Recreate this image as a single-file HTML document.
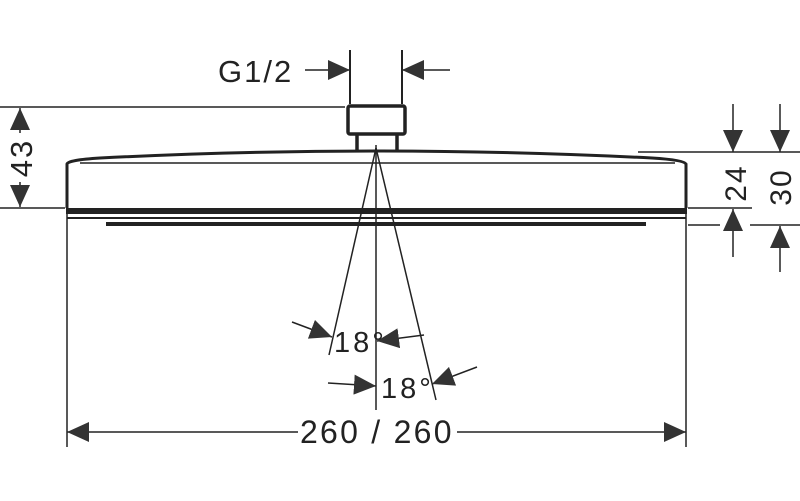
<!DOCTYPE html>
<html><head><meta charset="utf-8"><style>
html,body{margin:0;padding:0;background:#fff;}
svg{display:block;}
text{font-family:"Liberation Sans",sans-serif;fill:#222;}
</style></head><body>
<svg width="800" height="501" viewBox="0 0 800 501" xmlns="http://www.w3.org/2000/svg">
<defs>
<marker id="a" viewBox="0 0 22 20" refX="22" refY="10" markerWidth="22" markerHeight="20" markerUnits="userSpaceOnUse" orient="auto"><path d="M0,0L22,10L0,20z" fill="#333"/></marker>
</defs>
<g stroke="#222" fill="none" stroke-width="2">
<line x1="350" y1="50" x2="350" y2="104"/>
<line x1="402" y1="50" x2="402" y2="104"/>
<line x1="305" y1="70" x2="350" y2="70" marker-end="url(#a)" stroke-width="1.5"/>
<line x1="450" y1="70" x2="402" y2="70" marker-end="url(#a)" stroke-width="1.5"/>
<rect x="348" y="106" width="57" height="28" rx="2" stroke-width="3.5"/>
<line x1="357" y1="134" x2="357" y2="151" stroke-width="3.5"/>
<line x1="397" y1="134" x2="397" y2="151" stroke-width="3.5"/>
<path d="M67,208 L67,164 Q68,160 100,158 Q240,151 376,151 Q512,151 652,158 Q684,160 686,164 L686,208" stroke-width="3"/>
<line x1="80" y1="163" x2="675" y2="163" stroke-width="1.5"/>
<rect x="66" y="208" width="621" height="6" fill="#222" stroke="none"/>
<line x1="67" y1="218" x2="686" y2="218" stroke-width="2"/>
<rect x="106" y="222" width="540" height="4" fill="#222" stroke="none"/>
<line x1="0" y1="107" x2="345" y2="107" stroke-width="1.5"/>
<line x1="0" y1="208" x2="65" y2="208" stroke-width="1.5"/>
<line x1="20" y1="133" x2="20" y2="108" marker-end="url(#a)" stroke-width="1.5"/>
<line x1="20" y1="182" x2="20" y2="207" marker-end="url(#a)" stroke-width="1.5"/>
<line x1="638" y1="152" x2="800" y2="152" stroke-width="1.5"/>
<line x1="688" y1="208" x2="752" y2="208" stroke-width="1.5"/>
<line x1="688" y1="225" x2="720" y2="225" stroke-width="1.5"/>
<line x1="750" y1="225" x2="800" y2="225" stroke-width="1.5"/>
<line x1="733" y1="104" x2="733" y2="152" marker-end="url(#a)" stroke-width="1.5"/>
<line x1="780" y1="104" x2="780" y2="152" marker-end="url(#a)" stroke-width="1.5"/>
<line x1="733" y1="257" x2="733" y2="209" marker-end="url(#a)" stroke-width="1.5"/>
<line x1="780" y1="272" x2="780" y2="226" marker-end="url(#a)" stroke-width="1.5"/>
<line x1="67" y1="214" x2="67" y2="447" stroke-width="1.5"/>
<line x1="686" y1="214" x2="686" y2="447" stroke-width="1.5"/>
<line x1="376" y1="145" x2="376" y2="410" stroke-width="1.5"/>
<line x1="376" y1="148" x2="329" y2="355" stroke-width="1.5"/>
<line x1="376" y1="148" x2="436" y2="400" stroke-width="1.5"/>
<line x1="292" y1="322" x2="332" y2="337" marker-end="url(#a)" stroke-width="1.5"/>
<line x1="424" y1="335" x2="377" y2="341" marker-end="url(#a)" stroke-width="1.5"/>
<line x1="328" y1="383" x2="376" y2="386" marker-end="url(#a)" stroke-width="1.5"/>
<line x1="477" y1="367" x2="432" y2="384" marker-end="url(#a)" stroke-width="1.5"/>
<line x1="298" y1="432" x2="67" y2="432" marker-end="url(#a)" stroke-width="1.5"/>
<line x1="457" y1="432" x2="686" y2="432" marker-end="url(#a)" stroke-width="1.5"/>
</g>
<text x="218" y="82" font-size="31" letter-spacing="2">G1/2</text>
<text x="300" y="443" font-size="32" letter-spacing="1.5" textLength="153">260 / 260</text>
<text x="334" y="352" font-size="29" letter-spacing="3">18°</text>
<text x="381" y="398" font-size="29" letter-spacing="3">18°</text>
<text transform="translate(32,158) rotate(-90)" font-size="31" text-anchor="middle" letter-spacing="2">43</text>
<text transform="translate(746,183) rotate(-90)" font-size="30" text-anchor="middle" letter-spacing="2">24</text>
<text transform="translate(791,187) rotate(-90)" font-size="30" text-anchor="middle" letter-spacing="2">30</text>
</svg>
</body></html>
